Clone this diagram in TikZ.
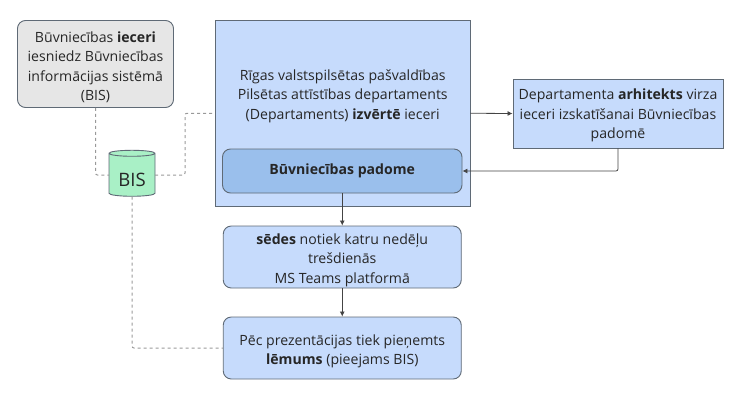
\documentclass[tikz,border=0pt]{standalone}
\usepackage{fontspec}
\setmainfont{Open Sans}
\usepackage{xcolor}
\usetikzlibrary{arrows.meta,shapes.geometric}
\definecolor{boxblue}{HTML}{C6DBFC}
\definecolor{boardblue}{HTML}{9ABFEC}
\definecolor{boxgray}{HTML}{E6E6E6}
\definecolor{bisgreen}{HTML}{A9F0C6}
\definecolor{edgegray}{HTML}{5F6A76}
\definecolor{linedark}{HTML}{444444}
\definecolor{dashgray}{HTML}{999999}
\definecolor{textdark}{HTML}{262626}
\newcommand{\toppad}[1]{\rule{0pt}{#1}}
\tikzset{
  flowbox/.style={draw=edgegray,line width=.9pt,fill=boxblue,align=center,inner sep=0pt,text=textdark},
  roundbox/.style={flowbox,rounded corners=8pt},
  flowline/.style={linedark,line width=.8pt,rounded corners=2pt,-{Latex[length=5pt,width=5pt]}},
  bisline/.style={dashgray,line width=1pt,dash pattern=on 3pt off 3pt,rounded corners=2pt},
}
\begin{document}
\begin{tikzpicture}[x=1pt,y=-1pt,font=\fontsize{14.1pt}{19.5pt}\selectfont]
  \useasboundingbox (0,0) rectangle (739,400);
  % boxes
  \node[roundbox,fill=boxgray,minimum width=156pt,minimum height=87pt] (idea) at (95.5,64)
    {\toppad{17pt}Būvniecības \textbf{ieceri}\\iesniedz Būvniecības\\informācijas sistēmā\\(BIS)};
  \node[flowbox,minimum width=254.5pt,minimum height=185.5pt] (dept) at (342.75,113.25) {};
  \node[text=textdark,align=center] (depttext) at (342.75,96)
    {Rīgas valstspilsētas pašvaldības\\Pilsētas attīstības departaments\\(Departaments) \textbf{izvērtē} ieceri};
  \node[roundbox,fill=boardblue,minimum width=239.5pt,minimum height=44pt] (board) at (342.25,171)
    {\textbf{Būvniecības padome}};
  \node[flowbox,minimum width=210pt,minimum height=69pt] (arch) at (618,113.5)
    {\toppad{15pt}Departamenta \textbf{arhitekts} virza\\ieceri izskatīšanai Būvniecības\\padomē};
  \node[roundbox,minimum width=238pt,minimum height=62pt] (meet) at (342.25,257)
    {\toppad{17pt}\textbf{sēdes} notiek katru nedēļu\\trešdienās\\MS Teams platformā};
  \node[roundbox,minimum width=238pt,minimum height=62pt] (decision) at (342.25,348)
    {\toppad{17pt}Pēc prezentācijas tiek pieņemts\\\textbf{lēmums} (pieejams BIS)};
  \node[cylinder,shape border rotate=90,aspect=.22,draw=edgegray,line width=.9pt,fill=bisgreen,
    minimum width=46pt,minimum height=46pt,inner sep=0pt,text=textdark,font=\fontsize{18.5pt}{20pt}\selectfont] (bis) at (132,175) {\toppad{23pt}BIS};
  % connectors
  \coordinate (elbow) at (185,113.25);
  \coordinate (bisleft) at (109,175);
  \coordinate (bisright) at (155,175);
  \draw[bisline] (idea.south) |- (bisleft);
  \draw[bisline] (bisright) -| (elbow) -- (dept.west);
  \draw[bisline] (bis.south) |- (decision.west);
  \draw[flowline] (dept.east) -- (arch.west);
  \draw[flowline] (arch.south) |- (board.east);
  \draw[flowline] (board.south) -- (meet.north);
  \draw[flowline] (meet.south) -- (decision.north);
\end{tikzpicture}
\end{document}
